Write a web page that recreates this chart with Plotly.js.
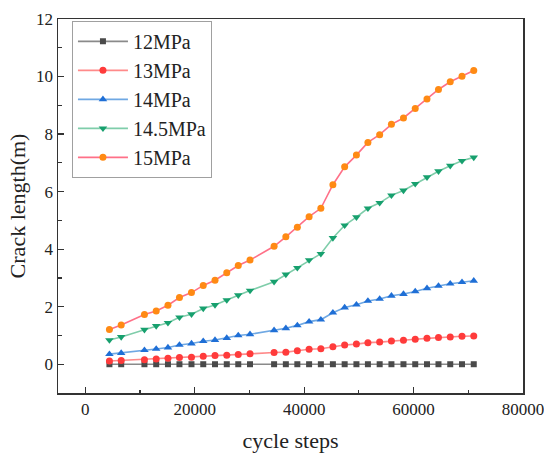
<!DOCTYPE html>
<html>
<head>
<meta charset="utf-8">
<script src="https://cdn.plot.ly/plotly-3.0.1.min.js"></script>
<style>html,body{margin:0;padding:0;background:#fff}#chart{width:544px;height:457px}</style>
</head>
<body>
<div id="chart"></div>
<script>
const seriesNames = ["12MPa", "13MPa", "14MPa", "14.5MPa", "15MPa"];
const cycleSteps = [4400, 6550, 10800, 12950, 15100, 17200, 19400, 21550, 23700, 25850, 27950, 30100,
  34500, 36650, 38750, 40900, 43050, 45250, 47400, 49550, 51650, 53800, 55950, 58150, 60300, 62450,
  64550, 66700, 68850, 71000];
const len12 = [0, 0, 0, 0, 0, 0, 0, 0, 0, 0, 0, 0, 0, 0, 0, 0, 0, 0, 0, 0, 0, 0, 0, 0, 0, 0, 0, 0, 0, 0];
const len13 = [0.11, 0.13, 0.16, 0.18, 0.21, 0.23, 0.24, 0.28, 0.30, 0.31, 0.34, 0.36, 0.41, 0.42, 0.47,
  0.52, 0.54, 0.61, 0.67, 0.70, 0.75, 0.77, 0.81, 0.83, 0.87, 0.90, 0.93, 0.95, 0.97, 0.98];
const len14 = [0.35, 0.39, 0.49, 0.53, 0.58, 0.67, 0.72, 0.80, 0.84, 0.91, 1.00, 1.04, 1.18, 1.25, 1.35,
  1.48, 1.55, 1.79, 1.97, 2.07, 2.20, 2.27, 2.38, 2.44, 2.53, 2.64, 2.72, 2.80, 2.85, 2.90];
const len145 = [0.84, 0.95, 1.20, 1.33, 1.44, 1.63, 1.74, 1.94, 2.06, 2.23, 2.40, 2.56, 2.87, 3.12, 3.35,
  3.62, 3.84, 4.39, 4.83, 5.11, 5.42, 5.61, 5.87, 6.04, 6.27, 6.50, 6.71, 6.90, 7.07, 7.19];
const len15 = [1.21, 1.36, 1.73, 1.85, 2.05, 2.32, 2.49, 2.74, 2.92, 3.18, 3.43, 3.62, 4.10, 4.43, 4.76,
  5.13, 5.42, 6.24, 6.86, 7.27, 7.71, 7.98, 8.34, 8.56, 8.89, 9.22, 9.55, 9.82, 10.01, 10.21];

const allY = [len12, len13, len14, len145, len15];
const lineColors = ["#8a8a8a", "#ff8a8a", "#6fa8e3", "#7fcdaa", "#ff7088"];
const markerColors = ["#4a4a4a", "#ff3b3b", "#1f6fd6", "#17a06e", "#ff8a14"];
const symbols = ["square", "circle", "triangle-up", "triangle-down", "circle"];
const sizes = [6, 7, 7.5, 7.5, 7];

const font = "'Liberation Serif', 'Times New Roman', serif";
const traces = allY.map((y, i) => ({
  x: cycleSteps, y: y, name: seriesNames[i], type: "scatter", mode: "lines+markers",
  line: {color: lineColors[i], width: 1.6},
  marker: {color: markerColors[i], symbol: symbols[i], size: sizes[i]}
}));

const axisCommon = {
  showline: true, mirror: true, linecolor: "#333", linewidth: 1.5,
  ticks: "inside", ticklen: 6, tickwidth: 1.3, tickcolor: "#333",
  showgrid: false, zeroline: false, ticklabeloverflow: "allow",
  tickfont: {family: font, size: 17, color: "#222"},
  minor: {ticks: "inside", ticklen: 3.5, tickwidth: 1.2, tickcolor: "#333"}
};

const layout = {
  width: 544, height: 457,
  margin: {l: 58, r: 21, t: 19, b: 64},
  paper_bgcolor: "#fff", plot_bgcolor: "#fff",
  showlegend: true,
  legend: {x: 0.03, y: 0.995, xanchor: "left", yanchor: "top",
    bordercolor: "#a0a0a0", borderwidth: 1, bgcolor: "#fff", itemwidth: 50,
    font: {family: font, size: 20, color: "#222"}, tracegroupgap: 0},
  xaxis: Object.assign({}, axisCommon, {
    range: [-5000, 80000], tickvals: [0, 20000, 40000, 60000, 80000],
    ticktext: ["0", "20000", "40000", "60000", "80000"],
    minor: Object.assign({}, axisCommon.minor, {tickvals: [10000, 30000, 50000, 70000]}),
    title: {text: "cycle steps", font: {family: font, size: 22, color: "#222"}, standoff: 14}
  }),
  yaxis: Object.assign({}, axisCommon, {
    range: [-1, 12], tickvals: [0, 2, 4, 6, 8, 10, 12],
    minor: Object.assign({}, axisCommon.minor, {tickvals: [1, 3, 5, 7, 9, 11]}),
    title: {text: "Crack length(m)", font: {family: font, size: 22, color: "#222"}, standoff: 4}
  })
};

Plotly.newPlot("chart", traces, layout, {displayModeBar: false, staticPlot: true});
</script>
</body>
</html>
